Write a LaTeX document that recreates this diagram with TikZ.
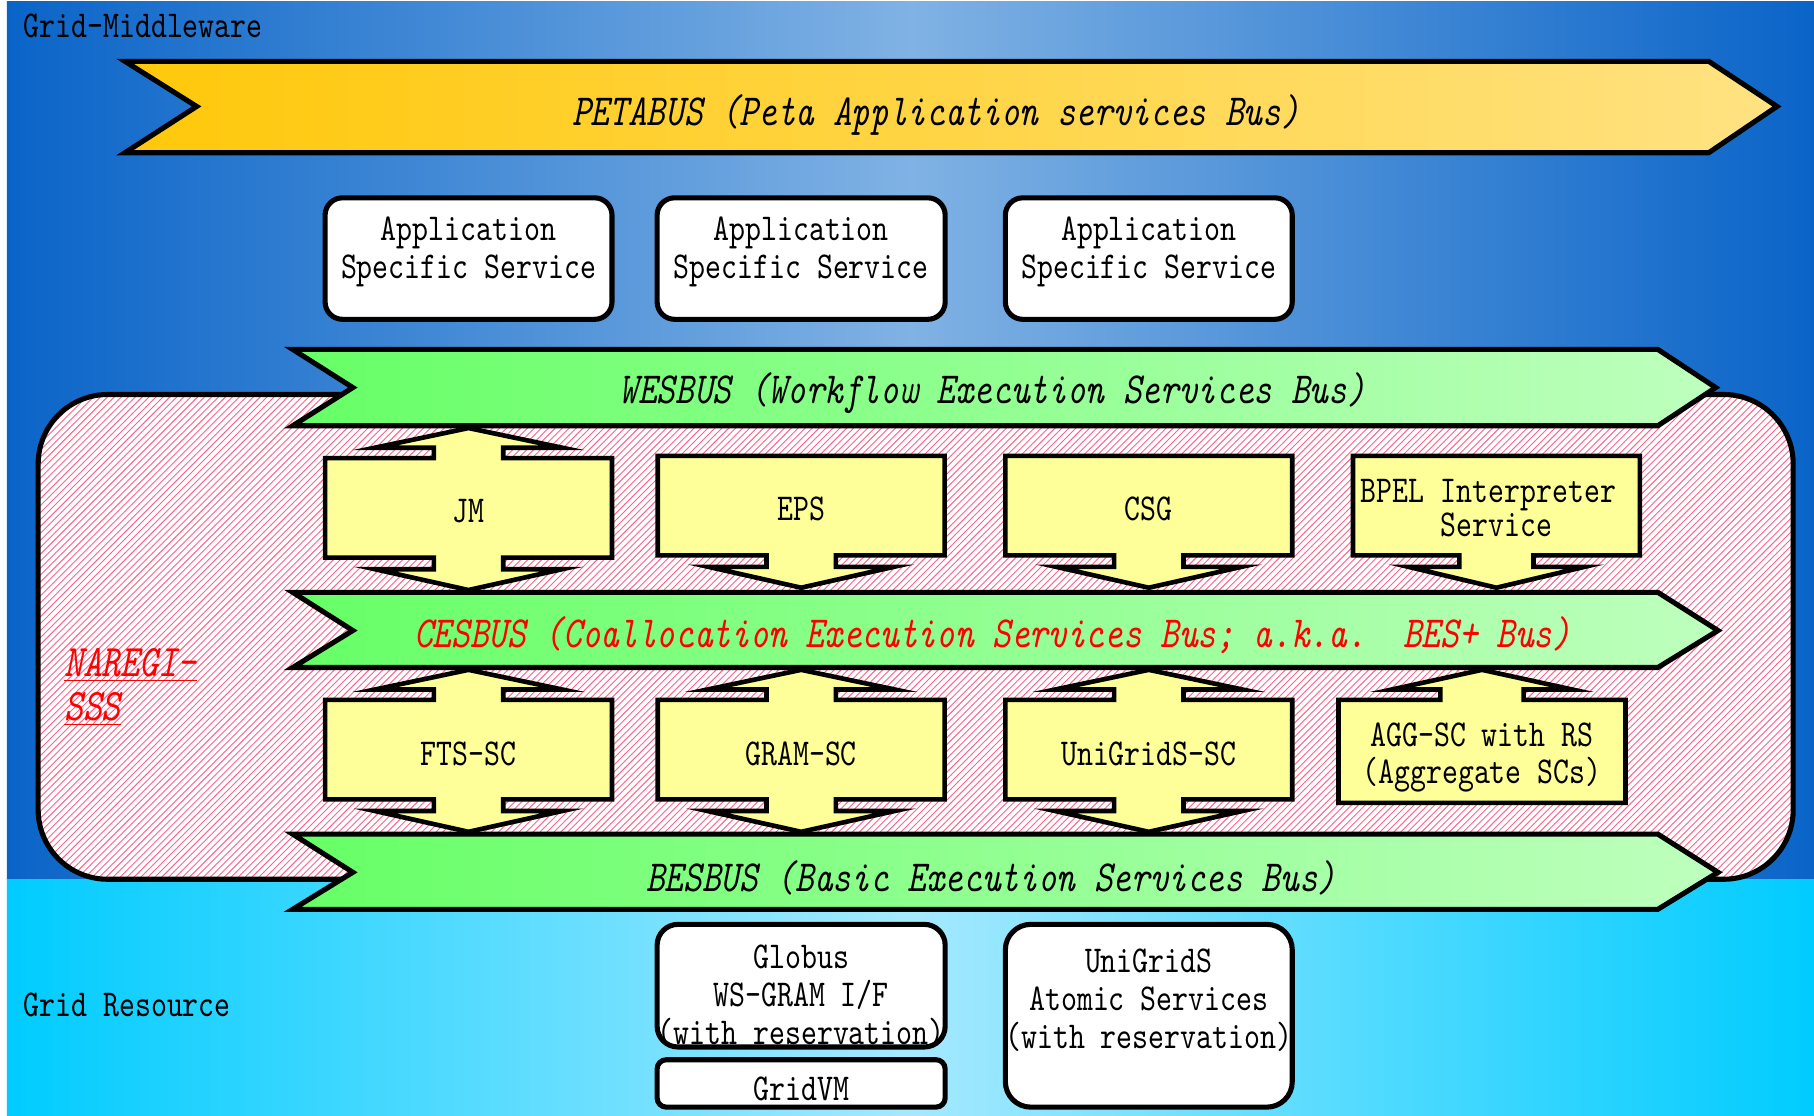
\documentclass[tikz,border=0pt]{standalone}
\usepackage{fontspec}
\newfontfamily\rf{lmmono10-regular}[Extension=.otf,ItalicFont=lmmono10-italic,FakeStretch=0.8]
\usetikzlibrary{patterns}
\definecolor{bluedark}{RGB}{10,100,200}
\definecolor{bluelight}{RGB}{128,178,228}
\definecolor{cyandark}{RGB}{0,204,255}
\definecolor{cyanlight}{RGB}{165,233,255}
\definecolor{petaL}{RGB}{255,200,10}
\definecolor{petaR}{RGB}{255,226,130}
\definecolor{greenL}{RGB}{102,255,102}
\definecolor{greenR}{RGB}{190,255,190}
\definecolor{cyel}{RGB}{255,255,153}
\definecolor{hatch}{RGB}{255,100,140}
\tikzset{
  outl/.style={draw=black,line width=2.2pt,line join=miter},
  petabus/.style={outl,left color=petaL,right color=petaR},
  greenbus/.style={outl,left color=greenL,right color=greenR},
  cal/.style={outl,fill=cyel,line width=2pt},
  wbox/.style={outl,fill=white},
  txt/.style={font=\rf\fontsize{16.4}{16.5}\selectfont,inner sep=0pt,align=center},
  bustxt/.style={font=\rf\itshape\fontsize{19.2}{19.2}\selectfont,inner sep=0pt},
}
% callout: #1 cx, #2 top, #3 bottom, #4 up(1/0), #5 down(1/0), #6 stem half, #7 head half
\newcommand\callout[7]{%
  \pgfmathsetmacro\cxL{#1-124}\pgfmathsetmacro\cxR{#1+124}%
  \pgfmathsetmacro\csL{#1-#6}\pgfmathsetmacro\csR{#1+#6}%
  \pgfmathsetmacro\chL{#1-#7}\pgfmathsetmacro\chR{#1+#7}%
  \pgfmathsetmacro\cuw{#2-9}\pgfmathsetmacro\cua{#2-26}%
  \pgfmathsetmacro\cdw{#3+10}\pgfmathsetmacro\cda{#3+28}%
  \ifnum#4=1
    \ifnum#5=1
      \draw[cal] (\cxL,#2) -- (\csL,#2) -- (\csL,\cuw) -- (\chL,\cuw) -- (#1,\cua) -- (\chR,\cuw) -- (\csR,\cuw) -- (\csR,#2) -- (\cxR,#2) -- (\cxR,#3) -- (\csR,#3) -- (\csR,\cdw) -- (\chR,\cdw) -- (#1,\cda) -- (\chL,\cdw) -- (\csL,\cdw) -- (\csL,#3) -- (\cxL,#3) -- cycle;
    \else
      \draw[cal] (\cxL,#2) -- (\csL,#2) -- (\csL,\cuw) -- (\chL,\cuw) -- (#1,\cua) -- (\chR,\cuw) -- (\csR,\cuw) -- (\csR,#2) -- (\cxR,#2) -- (\cxR,#3) -- (\cxL,#3) -- cycle;
    \fi
  \else
    \draw[cal] (\cxL,#2) -- (\cxR,#2) -- (\cxR,#3) -- (\csR,#3) -- (\csR,\cdw) -- (\chR,\cdw) -- (#1,\cda) -- (\chL,\cdw) -- (\csL,\cdw) -- (\csL,#3) -- (\cxL,#3) -- cycle;
  \fi}
\begin{document}
\begin{tikzpicture}[x=0.5pt,y=-0.5pt]
\useasboundingbox (0,0) rectangle (1568,964);
% background
\fill[white] (0,0) rectangle (1568,964);
\shade[left color=bluedark,right color=bluedark,middle color=bluelight] (6,1) rectangle (1568,760);
\shade[left color=cyandark,right color=cyandark,middle color=cyanlight] (6,760) rectangle (1568,964);
% NAREGI-SSS region
\draw[outl,rounded corners=30pt,preaction={fill=white},pattern=north east lines,pattern color=hatch] (33,341) rectangle (1550,760);
% PETABUS
\draw[petabus] (108,53) -- (1477,53) -- (1536,92) -- (1477,132) -- (108,132) -- (170,92) -- cycle;
% application boxes
\draw[wbox,rounded corners=7.5pt] (281,171) rectangle (529,276);
\draw[wbox,rounded corners=7.5pt] (568,171) rectangle (817,276);
\draw[wbox,rounded corners=7.5pt] (869,171) rectangle (1117,276);
% buses
\draw[greenbus] (253,302) -- (1433,302) -- (1483,335) -- (1433,368) -- (253,368) -- (305,335) -- cycle;
\draw[greenbus] (253,512) -- (1433,512) -- (1485,545) -- (1433,577) -- (253,577) -- (305,545) -- cycle;
\draw[greenbus] (253,721) -- (1433,721) -- (1485,754) -- (1433,786) -- (253,786) -- (305,754) -- cycle;
% callouts
\callout{405}{396}{482}{1}{1}{30}{81}
\callout{692.5}{394}{480}{0}{1}{30}{80}
\callout{993}{394}{480}{0}{1}{30}{80}
\callout{1293.5}{394}{480}{0}{1}{32}{76}
\callout{405}{605}{691}{1}{1}{30}{81}
\callout{692.5}{605}{691}{1}{1}{30}{81}
\callout{993}{605}{691}{1}{1}{30}{81}
\callout{1281}{605}{694}{1}{0}{36}{78}
% resource boxes
\draw[wbox,rounded corners=9pt] (568,799) rectangle (817,905);
\draw[wbox,rounded corners=4pt] (568,916) rectangle (817,957);
\draw[wbox,rounded corners=11pt] (869,799) rectangle (1117,957);
% texts
\node[txt,anchor=west] (gm) at (20,22) {Grid-Middleware};
\node[txt,anchor=west] (gr) at (20,869) {Grid Resource};
\node[bustxt] (peta) at (809,99) {PETABUS (Peta Application services Bus)};
\node[bustxt] (wes) at (858,339.5) {WESBUS (Workflow Execution Services Bus)};
\node[bustxt,text=red] (ces) at (858,549) {CESBUS (Coallocation Execution Services Bus; a.k.a.\ \ BES+ Bus)};
\node[bustxt] (bes) at (857,758.5) {BESBUS (Basic Execution Services Bus)};
\node[bustxt,text=red,anchor=west,align=left,font=\rf\itshape\fontsize{19.5}{19}\selectfont] (naregi) at (55,594) {\underline{NAREGI-}\\\underline{SSS}};
\node[txt] (app1) at (405,217.5) {Application\\Specific Service};
\node[txt] (app2) at (692.5,217.5) {Application\\Specific Service};
\node[txt] (app3) at (993,217.5) {Application\\Specific Service};
\node[txt] (jm) at (405,442) {JM};
\node[txt] (eps) at (692.5,440) {EPS};
\node[txt] (csg) at (993,440) {CSG};
\node[txt,font=\rf\fontsize{16.4}{13.5}\selectfont] (bpel) at (1293.5,439) {BPEL Interpreter\hphantom{x}\\Service};
\node[txt] (fts) at (405,652) {FTS-SC};
\node[txt] (gram) at (692.5,652) {GRAM-SC};
\node[txt] (unisc) at (993,652) {UniGridS-SC};
\node[txt,font=\rf\fontsize{16.4}{16}\selectfont] (agg) at (1281,654.5) {AGG-SC with RS\\(Aggregate SCs)};
\node[txt] (globus) at (692.5,861) {Globus\\WS-GRAM I/F\\(with reservation)};
\node[txt] (gridvm) at (692.5,941) {GridVM};
\node[txt] (unigrids) at (993,864.5) {UniGridS\\Atomic Services\\(with reservation)};
\end{tikzpicture}
\end{document}
